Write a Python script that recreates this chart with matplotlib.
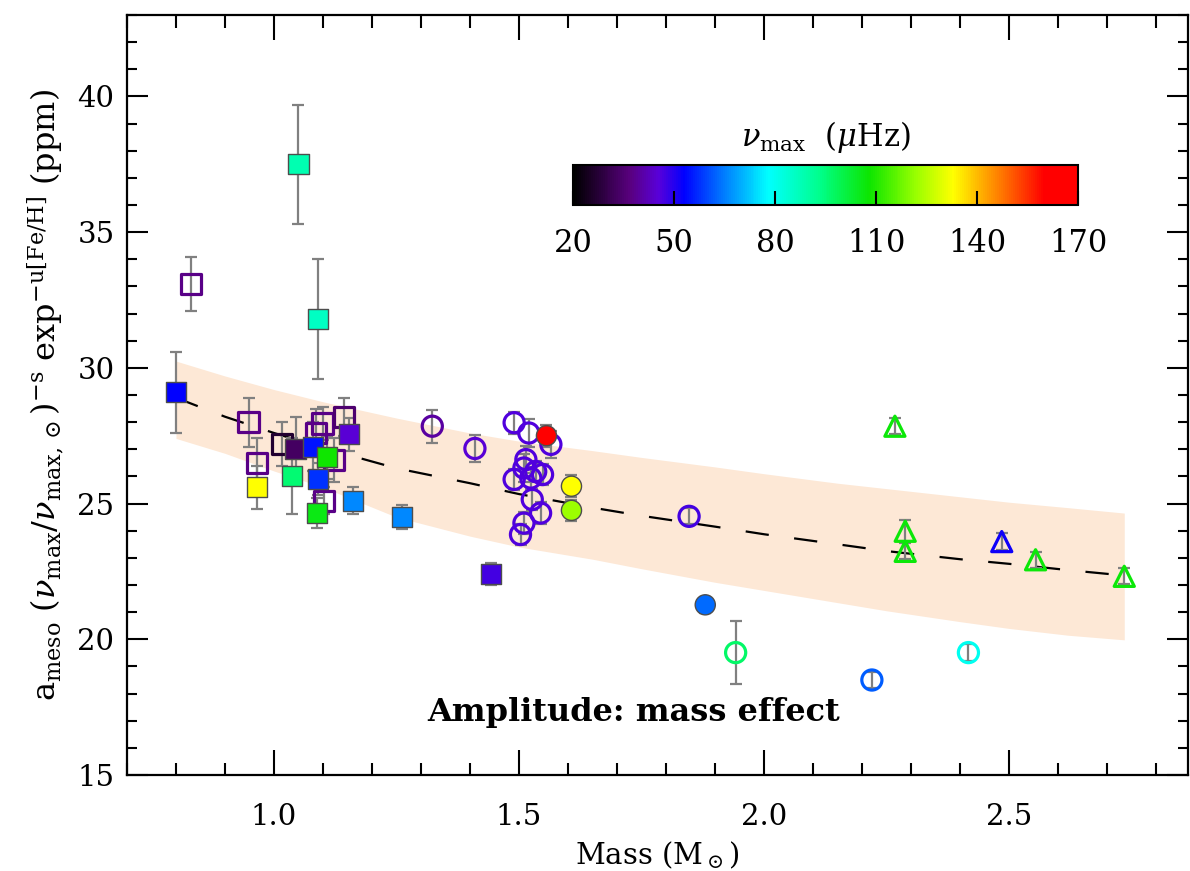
import numpy as np
import matplotlib
matplotlib.use('Agg')
import matplotlib.pyplot as plt
from matplotlib.colors import LinearSegmentedColormap, Normalize
from matplotlib.ticker import MultipleLocator, FormatStrFormatter

plt.rcParams['font.family'] = 'DejaVu Serif'
plt.rcParams['mathtext.fontset'] = 'dejavuserif'

# squares
sq_mass = [0.80, 1.05, 1.09, 0.83, 0.948, 0.966, 0.966, 1.037, 1.017, 1.044, 1.08, 1.085,
           1.099, 1.143, 1.153, 1.109, 1.122, 1.09, 1.102, 1.088, 1.161, 1.262, 1.442]
sq_amp = [29.1, 37.5, 31.8, 33.1, 28.0, 26.5, 25.6, 26.0, 27.2, 27.0, 27.1, 27.6,
          27.95, 28.2, 27.55, 26.7, 26.6, 25.9, 25.1, 24.65, 25.1, 24.5, 22.4]
sq_err = [1.5, 2.2, 2.2, 1.0, 0.9, 0.9, 0.8, 1.4, 0.8, 1.2, 0.9, 0.9,
          0.6, 0.7, 0.6, 0.8, 0.8, 0.6, 0.5, 0.55, 0.5, 0.45, 0.4]
sq_numax = [53, 88, 86, 38, 38, 38, 133, 96, 27, 33, 55, 38,
            38, 35, 45, 108, 38, 58, 38, 106, 66, 66, 47]
sq_filled = [1, 1, 1, 0, 0, 0, 1, 1, 0, 1, 1, 0,
             0, 0, 1, 1, 0, 1, 0, 1, 1, 1, 1]

# circles
ci_mass = [1.323, 1.41, 1.49, 1.52, 1.556, 1.565, 1.514, 1.51, 1.534, 1.548, 1.49, 1.524,
           1.527, 1.544, 1.51, 1.503, 1.607, 1.607, 1.847, 1.88, 1.942, 2.22, 2.417]
ci_amp = [27.85, 27.03, 27.98, 27.6, 27.5, 27.18, 26.62, 26.31, 26.18, 26.07, 25.89, 25.94,
          25.15, 24.65, 24.28, 23.86, 25.64, 24.75, 24.53, 21.27, 19.51, 18.5, 19.51]
ci_err = [0.6, 0.5, 0.4, 0.5, 0.4, 0.5, 0.5, 0.5, 0.4, 0.4, 0.4, 0.4,
          0.4, 0.4, 0.4, 0.4, 0.4, 0.4, 0.3, 0.3, 1.15, 0.3, 0.3]
ci_numax = [40, 45, 46, 46, 162, 46, 46, 46, 46, 46, 46, 46,
            46, 46, 46, 46, 133, 122, 47, 63, 97, 62, 80]
ci_filled = [0, 0, 0, 0, 1, 0, 0, 0, 0, 0, 0, 0,
             0, 0, 0, 0, 1, 1, 0, 1, 0, 0, 0]

# triangles
tr_mass = [2.267, 2.288, 2.288, 2.485, 2.554, 2.735]
tr_amp = [27.85, 23.98, 23.24, 23.6, 22.93, 22.32]
tr_err = [0.3, 0.4, 0.3, 0.3, 0.3, 0.3]
tr_numax = [107, 107, 107, 52, 107, 107]

# fit and band
fit_mass = [0.8, 0.9, 1.0, 1.1, 1.25, 1.4, 1.5, 1.65, 1.75, 1.9, 2.0, 2.15, 2.25, 2.4, 2.5, 2.62, 2.735]
fit_amp = [28.9, 28.2, 27.6, 27.05, 26.3, 25.75, 25.35, 24.85, 24.55, 24.15, 23.87, 23.5, 23.25,
           22.95, 22.78, 22.55, 22.35]
band_hi = [30.25, 29.7, 29.2, 28.75, 28.15, 27.6, 27.3, 26.95, 26.7, 26.35, 26.1, 25.75, 25.55,
           25.25, 25.05, 24.85, 24.65]
band_lo = [27.4, 26.85, 26.2, 25.6, 24.5, 23.8, 23.4, 22.95, 22.6, 22.1, 21.8, 21.35, 21.05,
           20.65, 20.4, 20.15, 19.98]

cb_ticks = [20, 50, 80, 110, 140, 170]

anchors = [(0.0, (0, 0, 0)), (0.113, (0.35, 0, 0.5)), (0.167, (0.35, 0, 0.85)),
           (0.22, (0, 0, 1)), (0.30, (0, 0.5, 1)), (0.387, (0, 1, 1)),
           (0.487, (0, 1, 0.55)), (0.587, (0.05, 0.9, 0)), (0.68, (0.6, 1, 0)),
           (0.753, (1, 1, 0)), (0.853, (1, 0.45, 0)), (0.933, (1, 0, 0)), (1.0, (1, 0, 0))]
cmap = LinearSegmentedColormap.from_list('numax', anchors)
norm = Normalize(20, 170)

fig = plt.figure(figsize=(11.9, 8.71), dpi=100)
ax = fig.add_axes([0.1067, 0.1102, 0.8916, 0.8726])

ax.fill_between(fit_mass, band_lo, band_hi, color='#fde8d6', lw=0, zorder=1)
line, = ax.plot(fit_mass, fit_amp, color='black', lw=1.6, zorder=2)
line.set_dashes([10.5, 11.5])

def draw(mass, amp, err, numax, filled, marker, size):
    mass = np.array(mass); amp = np.array(amp); numax = np.array(numax)
    filled = np.array(filled, dtype=bool)
    ax.errorbar(mass, amp, yerr=err, fmt='none', ecolor='0.5', elinewidth=1.6,
                capsize=4, capthick=1.6, zorder=3)
    op = ~filled
    if op.any():
        ax.scatter(mass[op], amp[op], s=size, marker=marker, facecolors='none',
                   edgecolors=cmap(norm(numax[op])), linewidths=2.3, zorder=4)
    if filled.any():
        ax.scatter(mass[filled], amp[filled], s=size, marker=marker,
                   c=numax[filled], cmap=cmap, norm=norm,
                   edgecolors='0.3', linewidths=1.0, zorder=5)

draw(sq_mass, sq_amp, sq_err, sq_numax, sq_filled, 's', 210)
draw(ci_mass, ci_amp, ci_err, ci_numax, ci_filled, 'o', 210)
draw(tr_mass, tr_amp, tr_err, tr_numax, [0] * len(tr_mass), '^', 210)

ax.text(1.733, 17.3, 'Amplitude: mass effect', ha='center', va='center',
        fontsize=23, fontweight='bold')

ax.set_xlim(0.7, 2.865)
ax.set_ylim(15, 43)
ax.xaxis.set_minor_locator(MultipleLocator(0.1))
ax.yaxis.set_major_locator(MultipleLocator(5))
ax.yaxis.set_minor_locator(MultipleLocator(1))
ax.set_xticks([1.0, 1.5, 2.0, 2.5])
ax.xaxis.set_major_formatter(FormatStrFormatter('%.1f'))
ax.tick_params(which='both', direction='in', top=True, right=True, width=1.5,
               labelsize=21)
ax.tick_params(axis='x', which='major', length=18, pad=20)
ax.tick_params(axis='x', which='minor', length=9)
ax.tick_params(axis='y', which='major', length=15, pad=9)
ax.tick_params(axis='y', which='minor', length=7)
for sp in ax.spines.values():
    sp.set_linewidth(1.6)

ax.set_xlabel(r'Mass (M$_\odot$)', fontsize=21, labelpad=6)
ax.set_ylabel(r'a$_{\rm meso}$ ($\nu_{\rm max}/\nu_{\rm max,\odot}$)$^{-\rm s}$ exp$^{-\rm u[Fe/H]}$ (ppm)',
              fontsize=23, labelpad=8)

cax = fig.add_axes([0.4815, 0.7642, 0.4244, 0.0459])
sm = plt.cm.ScalarMappable(cmap=cmap, norm=norm)
cb = fig.colorbar(sm, cax=cax, orientation='horizontal')
cb.set_ticks(cb_ticks)
cb.ax.tick_params(direction='in', length=10, width=1.5, labelsize=22, pad=16)
cb.outline.set_linewidth(1.5)
cb.ax.set_title(r'$\nu_{\rm max}$  ($\mu$Hz)', fontsize=22, pad=14)

fig.savefig('out.png', dpi=100)
